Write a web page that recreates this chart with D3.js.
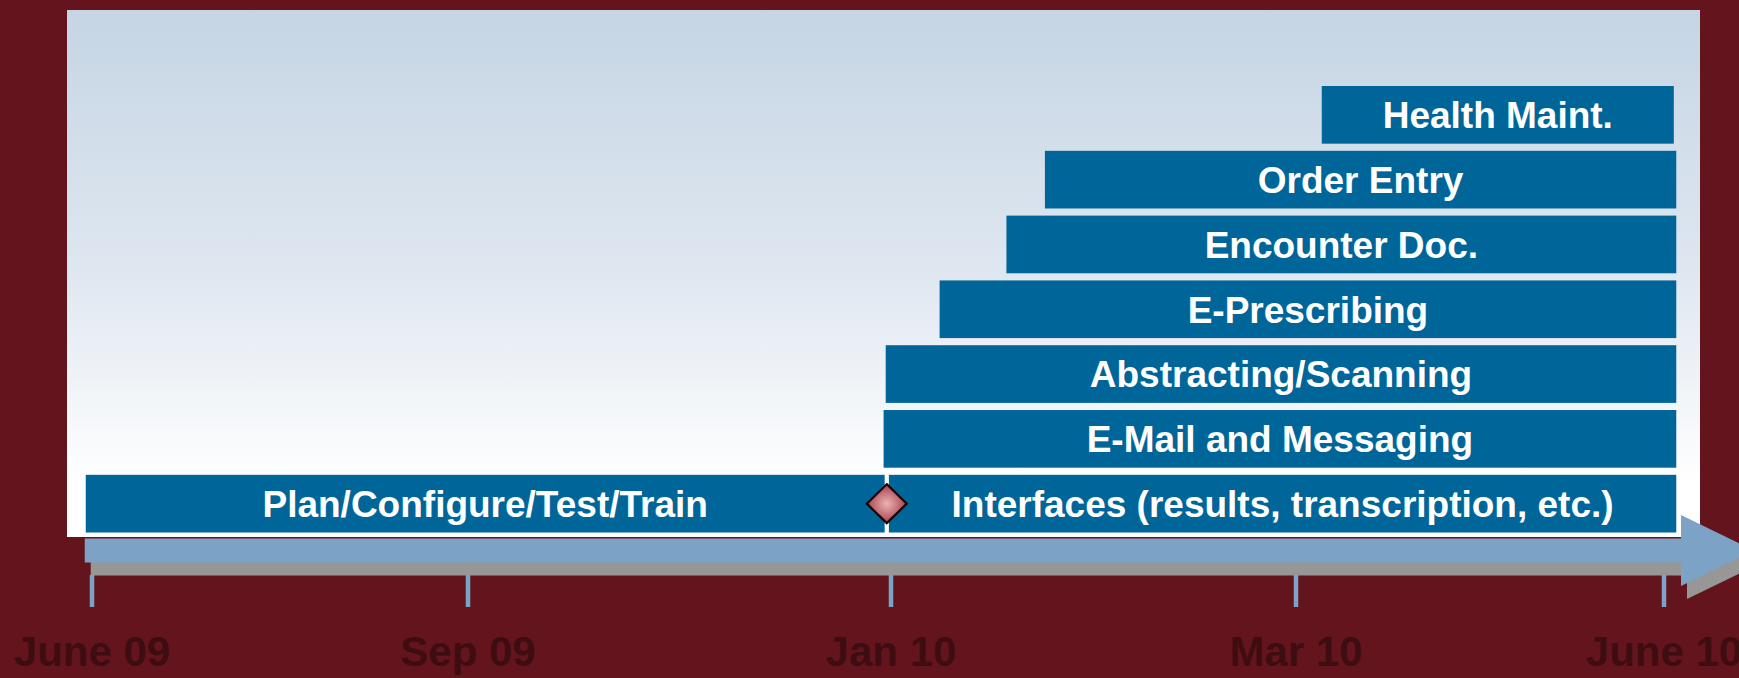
<!DOCTYPE html>
<html>
<head>
<meta charset="utf-8">
<script src="https://cdn.jsdelivr.net/npm/d3@7"></script>
<style>
  html, body { margin: 0; padding: 0; background: #64141c; overflow: hidden; }
  #wrapper svg { display: block; }
  .task-label { font-family: "Liberation Sans", Arial, sans-serif; font-weight: bold; font-size: 37px; fill: #ffffff; }
  .tick-label { font-family: "Liberation Sans", Arial, sans-serif; font-weight: bold; font-size: 42px; fill: #3e0d12; }
</style>
</head>
<body>
<div id="wrapper"></div>
<script>
// data
const tickLabels = ["June 09", "Sep 09", "Jan 10", "Mar 10", "June 10"];
const tickMonths = [0, 3, 7, 9, 12];

const taskNames = [
  "Plan/Configure/Test/Train",
  "Interfaces (results, transcription, etc.)",
  "E-Mail and Messaging",
  "Abstracting/Scanning",
  "E-Prescribing",
  "Encounter Doc.",
  "Order Entry",
  "Health Maint.",
];
const taskRows = [0, 0, 1, 2, 3, 4, 5, 6];
const taskStarts = [-0.05, 6.98, 6.93, 6.95, 7.24, 7.57, 7.76, 9.21];
const taskEnds = [6.94, 12.1, 12.1, 12.1, 12.1, 12.1, 12.1, 12.08];

const milestoneMonths = [6.96];

async function drawChart() {
  const tasks = taskNames.map((name, i) => ({
    name,
    row: taskRows[i],
    start: taskStarts[i],
    end: taskEnds[i],
  }));

  // 1. dimensions
  let dimensions = {
    width: 1739,
    height: 678,
    panel: { left: 67, top: 10, right: 1700, bottom: 537 },
    rows: { top: 86, bottom: 532.5 },
    band: { top: 538.5, bottom: 562.5, headTop: 515, headBottom: 586, headBase: 1681, tip: 1754 },
    shadow: { dx: 6, dy: 13 },
    ticks: { top: 575, bottom: 607, width: 4.5 },
    labelBaseline: 666,
  };

  // 2. svg
  const wrapper = d3
    .select("#wrapper")
    .append("svg")
    .attr("width", dimensions.width)
    .attr("height", dimensions.height);

  wrapper
    .append("rect")
    .attr("width", dimensions.width)
    .attr("height", dimensions.height)
    .attr("fill", "#64141c");

  const defs = wrapper.append("defs");

  const panelGradient = defs
    .append("linearGradient")
    .attr("id", "panel-gradient")
    .attr("x1", 0)
    .attr("y1", 0)
    .attr("x2", 0)
    .attr("y2", 1);
  panelGradient.append("stop").attr("offset", "0%").attr("stop-color", "#c5d5e4");
  panelGradient.append("stop").attr("offset", "50%").attr("stop-color", "#dfe7f0");
  panelGradient.append("stop").attr("offset", "90%").attr("stop-color", "#ffffff");

  const diamondGradient = defs
    .append("radialGradient")
    .attr("id", "diamond-gradient");
  diamondGradient.append("stop").attr("offset", "0%").attr("stop-color", "#eab4b4");
  diamondGradient.append("stop").attr("offset", "100%").attr("stop-color", "#a8404a");

  // 3. scales
  const xScale = d3
    .scaleLinear()
    .domain(tickMonths)
    .range([92, 468, 891, 1296, 1664]);

  const yScale = d3
    .scaleBand()
    .domain(d3.range(d3.max(taskRows) + 1))
    .range([dimensions.rows.bottom, dimensions.rows.top])
    .paddingInner(0.11);

  // 4. panel
  wrapper
    .append("rect")
    .attr("class", "panel")
    .attr("x", dimensions.panel.left)
    .attr("y", dimensions.panel.top)
    .attr("width", dimensions.panel.right - dimensions.panel.left)
    .attr("height", dimensions.panel.bottom - dimensions.panel.top)
    .attr("fill", "url(#panel-gradient)");

  // 5. bars
  const bars = wrapper
    .selectAll(".task")
    .data(tasks)
    .join("g")
    .attr("class", "task");

  bars
    .append("rect")
    .attr("x", (d) => xScale(d.start))
    .attr("y", (d) => yScale(d.row))
    .attr("width", (d) => xScale(d.end) - xScale(d.start))
    .attr("height", yScale.bandwidth())
    .attr("fill", "#006699");

  bars
    .append("text")
    .attr("class", "task-label")
    .attr("x", (d) => (xScale(d.start) + xScale(d.end)) / 2)
    .attr("y", (d) => yScale(d.row) + yScale.bandwidth() / 2 + 13.3)
    .attr("text-anchor", "middle")
    .text((d) => d.name);

  // 6. milestone
  const diamondHalfW = 20;
  const diamondHalfH = 19.5;
  wrapper
    .selectAll(".milestone")
    .data(milestoneMonths)
    .join("path")
    .attr("class", "milestone")
    .attr("d", (d) => {
      const cx = xScale(d);
      const cy = yScale(0) + yScale.bandwidth() / 2;
      return `M${cx},${cy - diamondHalfH}L${cx + diamondHalfW},${cy}L${cx},${cy + diamondHalfH}L${cx - diamondHalfW},${cy}Z`;
    })
    .attr("fill", "url(#diamond-gradient)")
    .attr("stroke", "#1a0505")
    .attr("stroke-width", 2.2);

  // 7. timeline arrow
  const b = dimensions.band;
  const bandLeft = xScale(d3.min(taskStarts)) - 1;
  const midY = (b.headTop + b.headBottom) / 2;
  const arrowPath = (dx, dy) =>
    `M${bandLeft + dx},${b.top + dy}` +
    `L${b.headBase + dx},${b.top + dy}` +
    `L${b.headBase + dx},${b.headTop + dy}` +
    `L${b.tip + dx},${midY + dy}` +
    `L${b.headBase + dx},${b.headBottom + dy}` +
    `L${b.headBase + dx},${b.bottom + dy}` +
    `L${bandLeft + dx},${b.bottom + dy}Z`;

  wrapper
    .append("path")
    .attr("class", "arrow-shadow")
    .attr("d", arrowPath(dimensions.shadow.dx, dimensions.shadow.dy))
    .attr("fill", "#979797");

  wrapper
    .append("path")
    .attr("class", "arrow")
    .attr("d", arrowPath(0, 0))
    .attr("fill", "#7ca2c5");

  // 8. ticks and labels
  wrapper
    .selectAll(".tick")
    .data(tickMonths)
    .join("rect")
    .attr("class", "tick")
    .attr("x", (d) => xScale(d) - dimensions.ticks.width / 2)
    .attr("y", dimensions.ticks.top)
    .attr("width", dimensions.ticks.width)
    .attr("height", dimensions.ticks.bottom - dimensions.ticks.top)
    .attr("fill", "#7ca2c5");

  wrapper
    .selectAll(".tick-label")
    .data(tickMonths)
    .join("text")
    .attr("class", "tick-label")
    .attr("x", (d) => xScale(d))
    .attr("y", dimensions.labelBaseline)
    .attr("text-anchor", "middle")
    .text((d, i) => tickLabels[i]);
}

drawChart();
</script>
</body>
</html>
